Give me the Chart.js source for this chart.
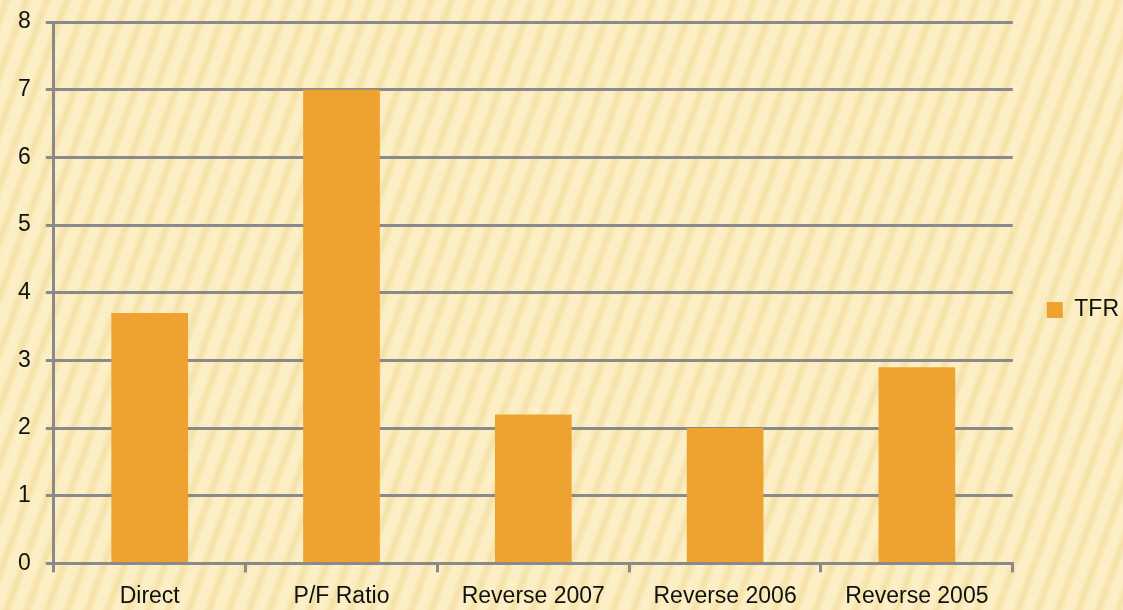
<!DOCTYPE html>
<html>
<head>
<meta charset="utf-8">
<script src="https://cdn.jsdelivr.net/npm/chart.js@4/dist/chart.umd.min.js"></script>
<style>
  html, body {
    margin: 0;
    padding: 0;
    width: 1123px;
    height: 610px;
    overflow: hidden;
    background-color: #fcefc6;
    background-image: repeating-linear-gradient(110deg,
      rgba(240, 214, 140, 0.0) 0px,
      rgba(240, 214, 140, 0.55) 6px,
      rgba(240, 214, 140, 0.0) 12px,
      rgba(240, 214, 140, 0.0) 19px);
  }
  #wrap { position: relative; width: 1123px; height: 610px; }
</style>
</head>
<body>
<div id="wrap"><canvas id="tfrChart"></canvas></div>
<script>
const categories = ["Direct", "P/F Ratio", "Reverse 2007", "Reverse 2006", "Reverse 2005"];
const tfrValues = [3.7, 7.0, 2.2, 2.0, 2.9];
const seriesName = "TFR";
const yTicks = [0, 1, 2, 3, 4, 5, 6, 7, 8];

const gridGray = "#8a8a8a";
const barColor = "#eea330";

Chart.defaults.font.family = "'Liberation Sans', Arial, sans-serif";
Chart.defaults.color = "#111";

const ctx = document.getElementById("tfrChart").getContext("2d");
new Chart(ctx, {
  type: "bar",
  data: {
    labels: categories,
    datasets: [
      {
        label: seriesName,
        data: tfrValues,
        backgroundColor: barColor,
        borderWidth: 0,
        barPercentage: 0.4,
        categoryPercentage: 1.0,
      },
    ],
  },
  options: {
    responsive: true,
    maintainAspectRatio: false,
    animation: false,
    layout: {
      padding: { left: 3, right: -6, top: 0, bottom: -10 },
    },
    plugins: {
      legend: {
        position: "right",
        labels: {
          boxWidth: 16,
          boxHeight: 16,
          padding: 34,
          font: { size: 23 },
          color: "#111",
        },
      },
      tooltip: { enabled: false },
    },
    scales: {
      x: {
        grid: {
          display: true,
          drawOnChartArea: false,
          drawTicks: true,
          tickLength: 9,
          color: gridGray,
          lineWidth: 3,
        },
        border: { color: gridGray, width: 3 },
        ticks: {
          font: { size: 23 },
          color: "#111",
          padding: 10,
          maxRotation: 0,
        },
      },
      y: {
        min: 0,
        max: 8,
        afterBuildTicks: (axis) => {
          axis.ticks = yTicks.map((v) => ({ value: v }));
        },
        // the top "8" label asks for too much room, pull the plot up a bit
        afterFit: (axis) => {
          axis.paddingTop = 22;
        },
        grid: {
          color: gridGray,
          lineWidth: 3,
          tickLength: 8,
        },
        border: { color: gridGray, width: 3 },
        ticks: {
          font: { size: 23 },
          color: "#111",
          padding: 15,
        },
      },
    },
  },
});
</script>
</body>
</html>
